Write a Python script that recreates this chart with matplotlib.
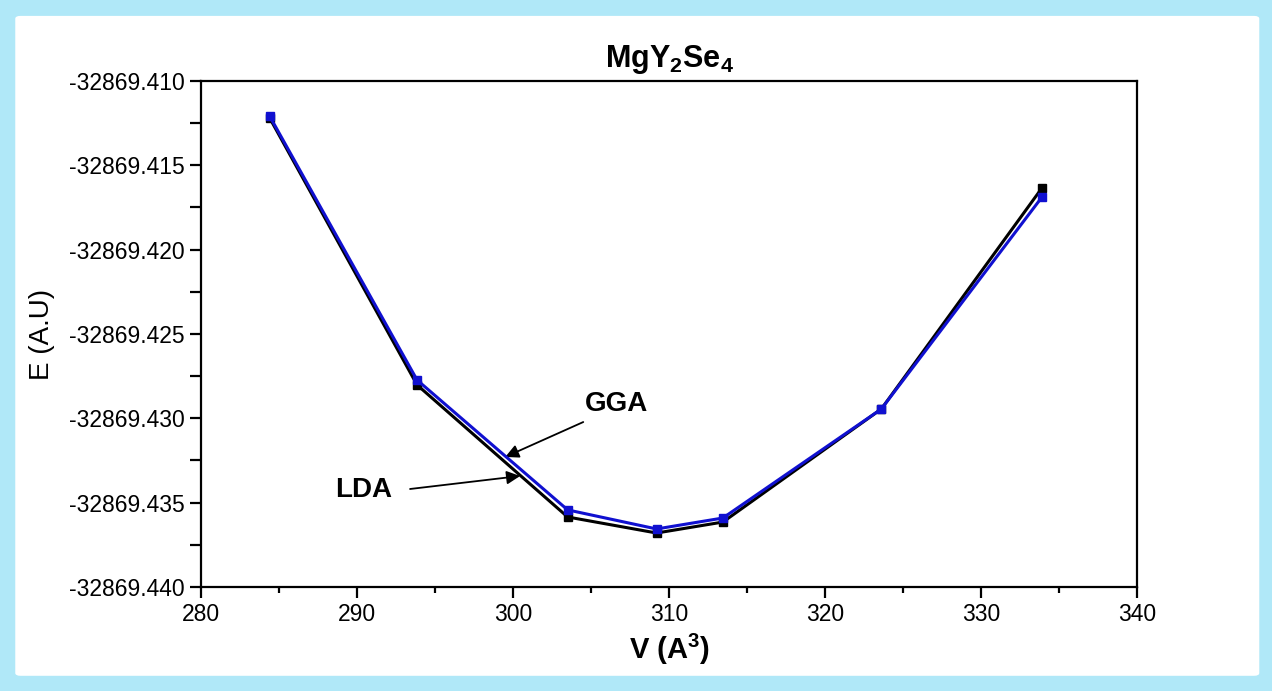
import matplotlib
matplotlib.use("Agg")
import matplotlib.pyplot as plt
from matplotlib.patches import FancyBboxPatch
from matplotlib.ticker import MultipleLocator, FormatStrFormatter

plt.rcParams['font.family'] = ['Liberation Sans', 'DejaVu Sans']
plt.rcParams['mathtext.fontset'] = 'custom'
plt.rcParams['mathtext.rm'] = 'Liberation Sans'
plt.rcParams['mathtext.bf'] = 'Liberation Sans:bold'
plt.rcParams['mathtext.it'] = 'Liberation Sans:italic'

V = [284.4, 293.85, 303.5, 309.2, 313.45, 323.6, 333.9]
E_LDA = [-32869.41219, -32869.42802, -32869.43585, -32869.43680, -32869.43615, -32869.42945, -32869.41634]
E_GGA = [-32869.41208, -32869.42773, -32869.43543, -32869.43656, -32869.43591, -32869.42945, -32869.41688]

fig = plt.figure(figsize=(12.72, 6.91), dpi=100)
fig.patch.set_facecolor('#b0e8f8')
frame = FancyBboxPatch((0.012, 0.022), 0.978, 0.955, boxstyle="round,pad=0,rounding_size=0.004",
                       transform=fig.transFigure, facecolor='white', edgecolor='none', zorder=-10)
fig.patches.append(frame)

ax = fig.add_axes([0.158, 0.1505, 0.736, 0.7323])
ax.plot(V, E_LDA, color='black', lw=2.2, marker='s', ms=6, zorder=3)
ax.plot(V, E_GGA, color='#1010d0', lw=2.2, marker='s', ms=6, zorder=4)

ax.set_xlim(280, 340)
ax.set_ylim(-32869.440001, -32869.409999)
ax.xaxis.set_major_locator(MultipleLocator(10))
ax.xaxis.set_minor_locator(MultipleLocator(5))
ax.yaxis.set_major_locator(MultipleLocator(0.005))
ax.yaxis.set_minor_locator(MultipleLocator(0.0025))
ax.yaxis.set_major_formatter(FormatStrFormatter('%.3f'))

for s in ax.spines.values():
    s.set_linewidth(1.6)
ax.tick_params(axis='both', which='major', direction='out', length=8, width=1.6, labelsize=16.5)
ax.tick_params(axis='y', which='minor', direction='out', length=8, width=1.6)
ax.tick_params(axis='x', which='minor', direction='out', length=4, width=1.6)

ax.set_title('MgY$_\\mathbf{2}$Se$_\\mathbf{4}$', fontsize=22, fontweight='bold', pad=10)
ax.set_xlabel('V (A$^\\mathbf{3}$)', fontsize=21, fontweight='bold', labelpad=4)
ax.set_ylabel('E (A.U)', fontsize=20, labelpad=10)

ax.text(306.6, -32869.42915, 'GGA', fontsize=20, fontweight='bold', ha='center', va='center')
ax.annotate('', xy=(299.5, -32869.43229), xytext=(304.5, -32869.43022),
            arrowprops=dict(arrowstyle='-|>', color='black', lw=1.3, mutation_scale=20,
                            shrinkA=0, shrinkB=0))
ax.text(290.4, -32869.43425, 'LDA', fontsize=20, fontweight='bold', ha='center', va='center')
ax.annotate('', xy=(300.45, -32869.43342), xytext=(293.4, -32869.43419),
            arrowprops=dict(arrowstyle='-|>', color='black', lw=1.3, mutation_scale=20,
                            shrinkA=0, shrinkB=0))

fig.savefig('out.png', dpi=100, facecolor=fig.get_facecolor())
